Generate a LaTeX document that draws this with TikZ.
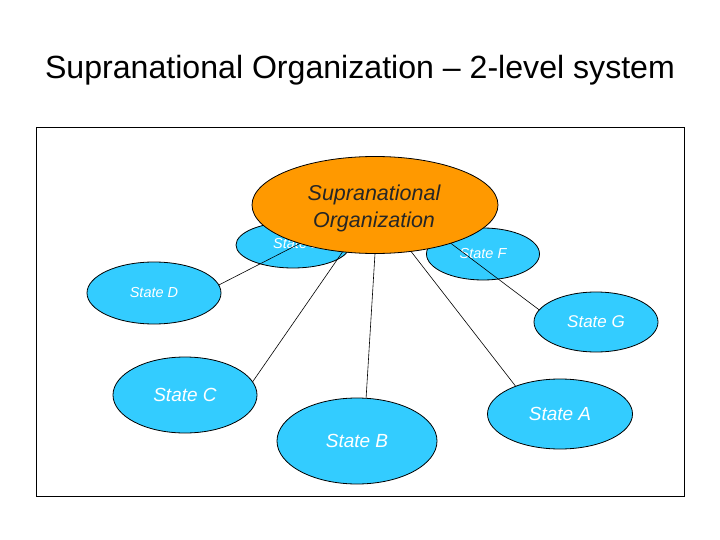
\documentclass[tikz,border=0pt]{standalone}
\usepackage{fontspec}
\setmainfont{Liberation Sans}
\usetikzlibrary{shapes.geometric}
\pgfdeclarelayer{bgzero}
\pgfdeclarelayer{bgone}
\pgfsetlayers{bgzero,bgone,main}
\definecolor{statefill}{HTML}{33CCFF}
\definecolor{orgfill}{HTML}{FF9900}
\tikzset{
  statebox/.style={ellipse, draw=black, line width=0.8pt, fill=statefill,
    inner sep=0pt, outer sep=0pt, text=white, font=\itshape},
  orgbox/.style={ellipse, draw=black, line width=0.8pt, fill=orgfill,
    inner sep=0pt, outer sep=0pt, minimum width=246pt, minimum height=97pt},
  orgtext/.style={text=black!85, align=center,
    font=\fontsize{21.5}{27}\selectfont\itshape},
  link/.style={draw=black, line width=0.6pt},
}
\begin{document}
\begin{tikzpicture}[x=1pt,y=-1pt]
\useasboundingbox (0,0) rectangle (720,540);
\node[anchor=base, font=\fontsize{32.1}{36}\selectfont] (title) at (360,79)
  {Supranational Organization -- 2-level system};
\draw[line width=1pt] (36.5,128) rectangle (684,496);

\begin{pgfonlayer}{bgzero}
\node[statebox, minimum width=114pt, minimum height=46pt] (E) at (293,245) {};
\node[text=white, font=\fontsize{14.5}{16}\selectfont\itshape] (Etext) at (297,244) {State E};
\node[statebox, minimum width=113pt, minimum height=52pt,
  font=\fontsize{14.5}{16}\selectfont\itshape] (F) at (483,254) {State F};
\end{pgfonlayer}

\node[orgbox] (org) at (375,205) {};
\node[orgtext] (orgtxt) at (374,208) {Supranational\\Organization};
\node[statebox, minimum width=134pt, minimum height=62pt,
  font=\fontsize{14.5}{16}\selectfont\itshape] (D) at (154,293) {State D};
\node[statebox, minimum width=144pt, minimum height=76pt,
  font=\fontsize{19}{22}\selectfont\itshape] (C) at (185,395) {State C};
\node[statebox, minimum width=160pt, minimum height=86pt,
  font=\fontsize{19}{22}\selectfont\itshape] (B) at (357,441) {State B};
\node[statebox, minimum width=145pt, minimum height=70pt,
  font=\fontsize{19}{22}\selectfont\itshape] (A) at (560,414) {State A};
\node[statebox, minimum width=124pt, minimum height=60pt,
  font=\fontsize{17}{20}\selectfont\itshape] (G) at (596,322) {State G};

\begin{pgfonlayer}{bgone}
\draw[link] (org.center) -- (D.7);
\draw[link] (org.center) -- (C.11);
\draw[link] ([xshift=3pt]org.center) -- (B.78);
\draw[link] (org.center) -- (A.148);
\draw[link] ([xshift=25pt]org.center) -- (G.168);
\end{pgfonlayer}
\end{tikzpicture}
\end{document}
